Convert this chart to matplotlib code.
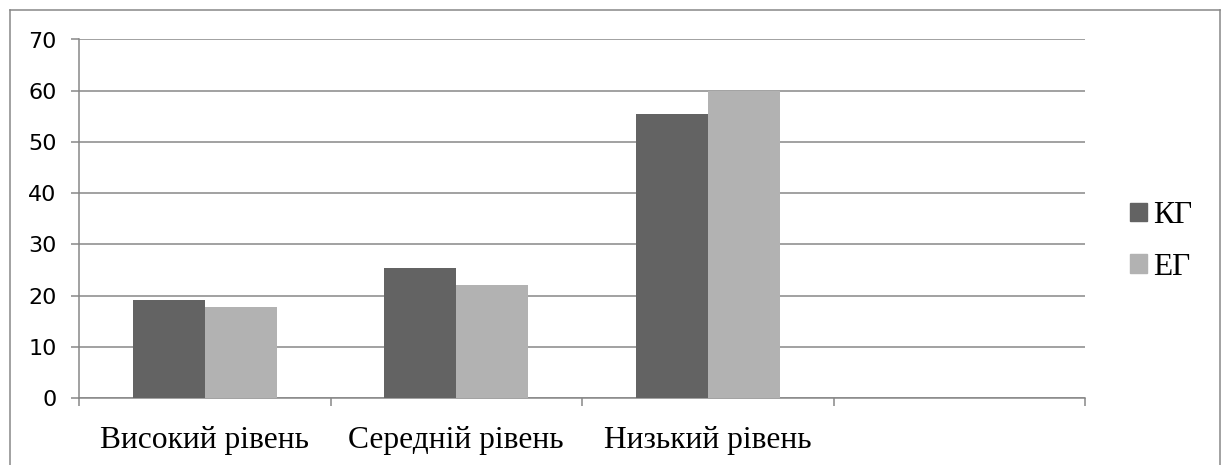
import matplotlib
matplotlib.use("Agg")
import matplotlib.pyplot as plt
from matplotlib.patches import Patch
from matplotlib.lines import Line2D
import numpy as np

categories = ["Високий рівень", "Середній рівень", "Низький рівень"]
series_names = ["КГ", "ЕГ"]
kg_values = [19.1, 25.4, 55.4]
eg_values = [17.8, 22.1, 60.0]
y_ticks = [0, 10, 20, 30, 40, 50, 60, 70]

KG_COLOR = "#636363"
EG_COLOR = "#b2b2b2"
GRID_COLOR = "#878787"
W, H = 1224, 465

fig = plt.figure(figsize=(W / 100, H / 100), dpi=100)
ax = fig.add_axes([79 / W, 1 - 398 / H, (1085 - 79) / W, (398 - 39.5) / H])

x = np.arange(len(categories))
bw = 0.286
ax.bar(x - bw / 2, kg_values, bw, color=KG_COLOR, label=series_names[0], zorder=3)
ax.bar(x + bw / 2, eg_values, bw, color=EG_COLOR, label=series_names[1], zorder=3)

# 4 category slots, the last one empty like in the original
ax.set_xlim(-0.5, 3.5)
ax.set_ylim(0, 70)

ax.set_yticks(y_ticks)
ax.set_yticklabels([str(t) for t in y_ticks], fontfamily="DejaVu Sans", fontsize=16)
ax.tick_params(axis="y", length=6, width=1.1, color=GRID_COLOR, pad=10)
ax.yaxis.grid(True, color=GRID_COLOR, linewidth=1.1, zorder=0)

# boundaries carry the tick marks, centres carry the labels
ax.set_xticks(np.arange(-0.5, 4.0, 1.0))
ax.set_xticklabels([])
ax.tick_params(axis="x", which="major", length=6, width=1.1, color=GRID_COLOR)
ax.set_xticks(x, minor=True)
ax.set_xticklabels(categories, minor=True, fontfamily="Liberation Serif", fontsize=22.7)
ax.tick_params(axis="x", which="minor", length=0, pad=20)

for side in ["top", "right"]:
    ax.spines[side].set_visible(False)
for side in ["left", "bottom"]:
    ax.spines[side].set_color(GRID_COLOR)
    ax.spines[side].set_linewidth(1.1)

handles = [Patch(color=KG_COLOR), Patch(color=EG_COLOR)]
fig.legend(handles, series_names, loc="center left",
           bbox_to_anchor=(1130 / W, 1 - 241.5 / H), frameon=False,
           prop={"family": "Liberation Serif", "size": 22.7},
           handlelength=0.54, handleheight=0.54, handletextpad=0.2,
           labelspacing=0.72, borderpad=0, borderaxespad=0)

# outer chart frame (bottom edge lies outside the picture)
for xs, ys in [([9.5, 9.5], [H, 10]), ([9.5, 1220], [10, 10]), ([1220, 1220], [10, H])]:
    fig.add_artist(Line2D([v / W for v in xs], [1 - v / H for v in ys],
                          color=GRID_COLOR, linewidth=1.1))

fig.savefig("out.png", dpi=100)
